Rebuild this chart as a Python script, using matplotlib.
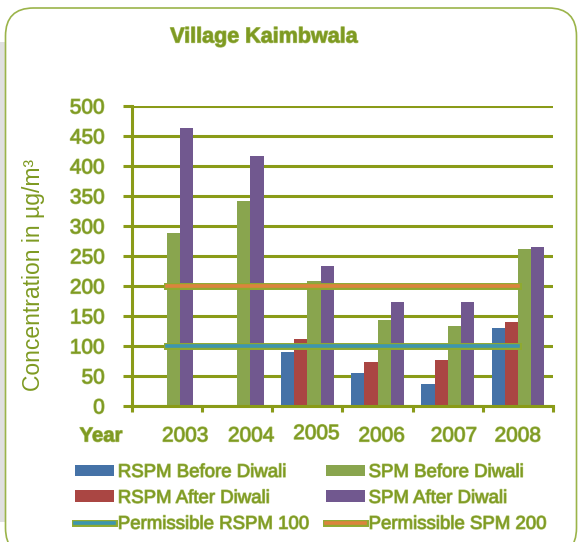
import matplotlib
matplotlib.use("Agg")
import matplotlib.pyplot as plt
import matplotlib.patheffects as pe
import numpy as np
from matplotlib.patches import FancyBboxPatch, Rectangle

# data
years = ["2003", "2004", "2005", "2006", "2007", "2008"]
rspm_before = [0, 0, 90, 55, 37, 130]
rspm_after = [0, 0, 112, 74, 77, 140]
spm_before = [288, 342, 208, 143, 133, 262]
spm_after = [464, 417, 233, 173, 173, 265]
rspm_limit = 100
spm_limit = 200

series = [
    ("RSPM Before Diwali", rspm_before, "#4572A7"),
    ("RSPM After Diwali", rspm_after, "#AA4643"),
    ("SPM Before Diwali", spm_before, "#89A54E"),
    ("SPM After Diwali", spm_after, "#71588F"),
]

OLIVE = "#7E9A22"
GRID = "#8A9B18"
FONT = "Liberation Sans"
GLOW = [pe.Stroke(linewidth=0.9, foreground="#A8BD62"), pe.Normal()]

plt.rcParams["font.family"] = [FONT, "DejaVu Sans"]

W, H = 578, 542
fig = plt.figure(figsize=(W / 100, H / 100), dpi=100)

# background frame
fig.patches.append(Rectangle((0, 0.20), 0.05, 4.80, transform=fig.dpi_scale_trans,
                             facecolor="#E0E0E0", edgecolor="none", zorder=0))
fig.patches.append(FancyBboxPatch((0.055, -0.14), 5.71, 5.48,
                                  boxstyle="round,pad=0,rounding_size=0.28",
                                  transform=fig.dpi_scale_trans, facecolor="white",
                                  edgecolor="#9BB44A", linewidth=1.2, zorder=1))

ax = fig.add_axes([132 / W, 1 - 406 / H, 421 / W, 300 / H])
ax.set_facecolor("none")
ax.set_zorder(2)

x = np.arange(len(years))
bw = 0.188
for i, (label, vals, color) in enumerate(series):
    ax.bar(x + (i - 1.5) * bw, vals, width=bw, color=color, label=label, zorder=2)

stroke = [pe.Stroke(linewidth=5.0, foreground="#8FAA30"), pe.Normal()]
ax.plot(x, np.full(len(years), rspm_limit), color="#3D96AE", linewidth=2.6,
        label="Permissible RSPM 100", zorder=4, path_effects=stroke)
ax.plot(x, np.full(len(years), spm_limit), color="#DB843D", linewidth=2.6,
        label="Permissible SPM 200", zorder=4, path_effects=stroke)

ax.set_xlim(-0.5, len(years) - 0.5)
ax.set_ylim(0, 500)
ax.set_yticks(np.arange(0, 501, 50))
ax.set_xticks(np.arange(-0.5, len(years), 1.0))
ax.set_xticklabels([])
ax.yaxis.grid(True, color=GRID, linewidth=2.2)
ax.set_axisbelow(True)
for s in ("top", "right"):
    ax.spines[s].set_visible(False)
for s in ("left", "bottom"):
    ax.spines[s].set_color(GRID)
    ax.spines[s].set_linewidth(2.2)
ax.tick_params(axis="y", direction="out", length=6.5, width=2.2, color=GRID,
               labelsize=15, labelcolor=OLIVE, pad=13)
ax.tick_params(axis="x", direction="out", length=4.5, width=2.2, color=GRID)
for t in ax.get_yticklabels():
    t.set_path_effects(GLOW)

# year labels (shifted as in original)
label_shift = [0.26, 0.20, 0.13, 0.06, 0.09, 0.0]
label_y = [-0.1, -0.1, -0.092, -0.1, -0.1, -0.1]
for xi, yr, dx, yy in zip(x, years, label_shift, label_y):
    ax.text(xi + dx, yy, yr, transform=ax.get_xaxis_transform(), ha="center", va="center",
            fontsize=15, color=OLIVE, path_effects=GLOW)

fig.text(101 / W, 1 - 436 / H, "Year", ha="center", va="center", fontsize=14.6,
         fontweight="bold", color=OLIVE, path_effects=GLOW)
fig.text(264 / W, 1 - 37 / H, "Village Kaimbwala", ha="center", va="center",
         fontsize=15.5, fontweight="bold", color=OLIVE, path_effects=GLOW)
fig.text(34 / W, 1 - 275 / H, "Concentration in µg/m³", ha="center", va="center",
         rotation=90, fontsize=16.5, color=OLIVE)

handles, labels = ax.get_legend_handles_labels()
order = ["RSPM Before Diwali", "RSPM After Diwali", "Permissible RSPM 100",
         "SPM Before Diwali", "SPM After Diwali", "Permissible SPM 200"]
hmap = dict(zip(labels, handles))
leg = fig.legend([hmap[k] for k in order], order, ncol=2, loc="upper left",
                 bbox_to_anchor=(75 / W, 1 - 464 / H), frameon=False, borderpad=0,
                 borderaxespad=0, fontsize=13.4, handlelength=2.1, handleheight=0.6,
                 handletextpad=0.2, columnspacing=0.9, labelspacing=0.48)
for t in leg.get_texts():
    t.set_color(OLIVE)
    t.set_path_effects(GLOW)

fig.savefig("out.png", dpi=100)
